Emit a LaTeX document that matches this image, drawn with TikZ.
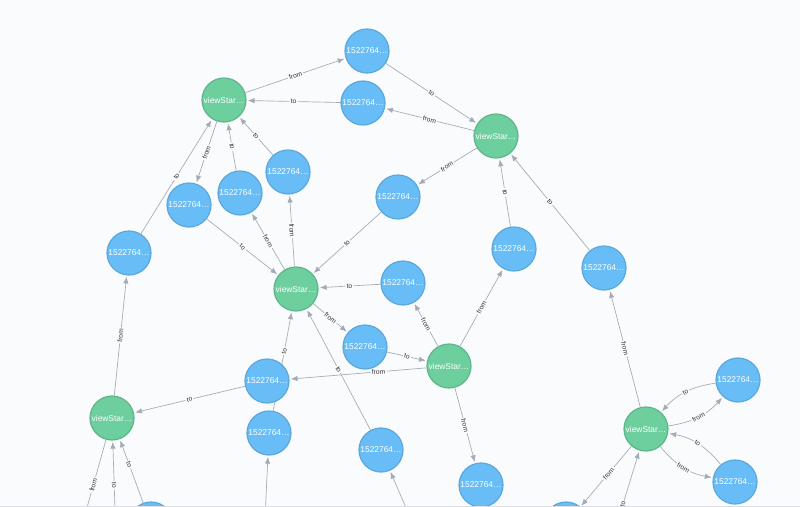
\documentclass[tikz,border=0pt]{standalone}
\usepackage{fontspec}
\setmainfont{Liberation Sans}
\usetikzlibrary{arrows.meta,backgrounds}
\definecolor{bg}{HTML}{F9FBFD}
\definecolor{bfill}{HTML}{68BDF6}
\definecolor{bline}{HTML}{5CA8DB}
\definecolor{gfill}{HTML}{6DCE9E}
\definecolor{gline}{HTML}{60B58B}
\definecolor{eline}{HTML}{A5ABB6}
\tikzset{
  bnode/.style={circle,fill=bfill,draw=bline,line width=0.9pt,minimum size=33pt,inner sep=0pt,text=white,font=\fontsize{6.3}{7}\selectfont},
  gnode/.style={circle,fill=gfill,draw=gline,line width=0.9pt,minimum size=33pt,inner sep=0pt,text=white,font=\fontsize{6.3}{7}\selectfont},
  edge/.style={draw=eline,line width=0.5pt,-{Latex[length=5pt,width=4pt]},shorten >=1pt},
  lbl/.style={sloped,fill=bg,inner sep=1pt,text=black!80,font=\fontsize{5}{6}\selectfont}
}
\begin{document}
\begin{tikzpicture}[x=0.75pt,y=-0.75pt]
\useasboundingbox (0,0) rectangle (800,507);
\node[gnode] (G1) at (224,100) {viewStar…};
\node[bnode] (B1) at (367,51) {1522764…};
\node[bnode] (B2) at (363,103) {1522764…};
\node[gnode] (G2) at (496,136) {viewStar…};
\node[bnode] (B3) at (398,197) {1522764…};
\node[bnode] (B4) at (189,205) {1522764…};
\node[bnode] (B5) at (240,193) {1522764…};
\node[bnode] (B6) at (288,172) {1522764…};
\node[bnode] (B7) at (129,253) {1522764…};
\node[gnode] (G3) at (296,289) {viewStar…};
\node[bnode] (B8) at (403,283) {1522764…};
\node[bnode] (B9) at (514,249) {1522764…};
\node[bnode] (B10) at (604,268) {1522764…};
\node[bnode] (B11) at (365,347) {1522764…};
\node[gnode] (G4) at (449,366) {viewStar…};
\node[bnode] (B13) at (269,433) {1522764…};
\node[bnode] (B12) at (267,381) {1522764…};
\node[gnode] (G5) at (112,418) {viewStar…};
\node[bnode] (B14) at (381,450) {1522764…};
\node[bnode] (B15) at (481,485) {1522764…};
\node[gnode] (G6) at (646,429) {viewStar…};
\node[bnode] (B16) at (738,380) {1522764…};
\node[bnode] (B17) at (735,482) {1522764…};
\node[bnode] (B18) at (151,524) {};
\node[bnode] (B19) at (566,524) {};
\coordinate (d1) at (78,540);
\coordinate (d2) at (116,540);
\coordinate (d3) at (264,540);
\coordinate (d4) at (420,540);
\coordinate (d5) at (612,540);
\begin{scope}[on background layer]
\fill[bg] (0,0) rectangle (800,507);
\draw[edge] (G1) -- node[lbl]{from} (B1);
\draw[edge] (B2) -- node[lbl]{to} (G1);
\draw[edge] (B1) -- node[lbl]{to} (G2);
\draw[edge] (G2) -- node[lbl]{from} (B2);
\draw[edge] (G1) -- node[lbl]{from} (B4);
\draw[edge] (B5) -- node[lbl]{to} (G1);
\draw[edge] (B6) -- node[lbl]{to} (G1);
\draw[edge] (B7) -- node[lbl]{to} (G1);
\draw[edge] (G2) -- node[lbl]{from} (B3);
\draw[edge] (B3) -- node[lbl]{to} (G3);
\draw[edge] (B9) -- node[lbl]{to} (G2);
\draw[edge] (B10) -- node[lbl]{to} (G2);
\draw[edge] (B4) -- node[lbl]{to} (G3);
\draw[edge] (G3) -- node[lbl]{from} (B5);
\draw[edge] (G3) -- node[lbl]{from} (B6);
\draw[edge] (B8) -- node[lbl]{to} (G3);
\draw[edge] (G3) -- node[lbl]{from} (B11);
\draw[edge] (B11) -- node[lbl]{to} (G4);
\draw[edge] (G4) -- node[lbl]{from} (B8);
\draw[edge] (G4) -- node[lbl]{from} (B9);
\draw[edge] (G4) -- node[lbl,pos=0.35]{from} (B12);
\draw[edge] (G4) -- node[lbl]{from} (B15);
\draw[edge] (B13) -- node[lbl,pos=0.6]{to} (G3);
\draw[edge] (B12) -- node[lbl]{to} (G5);
\draw[edge] (G5) -- node[lbl]{from} (B7);
\draw[edge] (B14) -- node[lbl]{to} (G3);
\draw[edge] (G6) -- node[lbl]{from} (B10);
\draw[edge] (B16) to[bend right=20] node[lbl]{to} (G6);
\draw[edge] (G6) to[bend right=20] node[lbl]{from} (B16);
\draw[edge] (B17) to[bend right=20] node[lbl]{to} (G6);
\draw[edge] (G6) to[bend right=20] node[lbl]{from} (B17);
\draw[edge] (G6) -- node[lbl,pos=0.45]{from} (B19);
\draw[edge] (d5) -- node[lbl,pos=0.4]{to} (G6);
\draw[edge] (G5) -- node[lbl,pos=0.45]{from} (d1);
\draw[edge] (d2) -- node[lbl,pos=0.55]{to} (G5);
\draw[edge] (B18) -- node[lbl,pos=0.6]{to} (G5);
\draw[edge] (d3) -- node[lbl,pos=0.2]{from} (B13);
\draw[edge] (d4) -- (B14);
\end{scope}
\draw[eline!40,line width=1pt] (0,506.5) -- (800,506.5);
\end{tikzpicture}
\end{document}
